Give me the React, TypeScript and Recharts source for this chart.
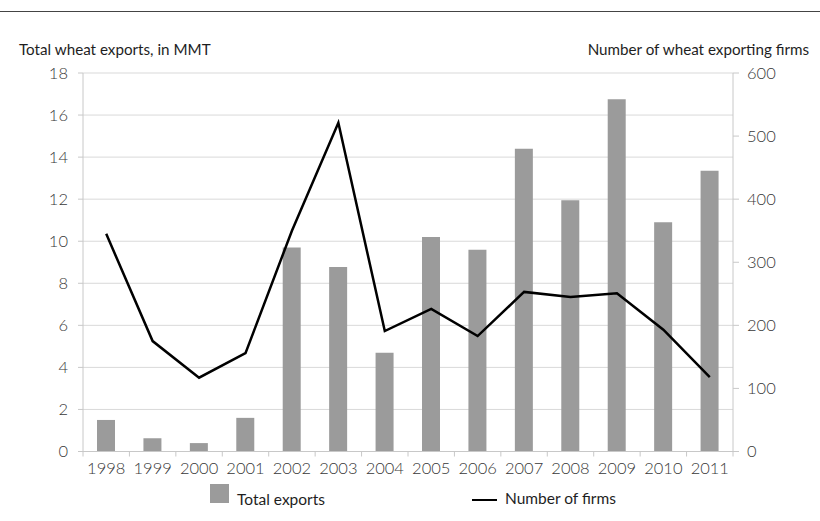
import { ComposedChart, Bar, Line, XAxis, YAxis, CartesianGrid } from 'recharts';

const years = ['1998', '1999', '2000', '2001', '2002', '2003', '2004', '2005', '2006', '2007', '2008', '2009', '2010', '2011'];
const totalExports = [1.5, 0.63, 0.4, 1.6, 9.7, 8.77, 4.7, 10.2, 9.6, 14.4, 11.95, 16.75, 10.9, 13.35];
const numberOfFirms = [345, 175, 117, 156, 350, 521, 191, 226, 183, 253, 245, 251, 193, 118];
const leftTicks = [0, 2, 4, 6, 8, 10, 12, 14, 16, 18];
const rightTicks = [0, 100, 200, 300, 400, 500, 600];

const data = years.map((year, i) => ({
  year,
  exports: totalExports[i],
  firms: numberOfFirms[i],
}));

const W = 820;
const H = 521;
const LEFT = 83;
const RIGHT = 733;
const TOP = 73;
const BOTTOM = 451.5;
const BAND = (RIGHT - LEFT) / years.length;
const FONT = 'Lato, "Noto Sans", sans-serif';
const AXIS = '#c8c8c8';
const GRID = '#d9d9d9';
const TICK_TEXT = '#383838';
const TICK_FONT = { fill: TICK_TEXT, fontSize: 16.5, fontFamily: FONT, fontWeight: 300 };

const YearTick = (props: any) => {
  const { x, payload, index } = props;
  const left = x - BAND / 2;
  return (
    <g>
      <line x1={left} x2={left} y1={BOTTOM} y2={BOTTOM + 5} stroke={AXIS} />
      {index === years.length - 1 && (
        <line x1={left + BAND} x2={left + BAND} y1={BOTTOM} y2={BOTTOM + 5} stroke={AXIS} />
      )}
      <text x={x} y={BOTTOM + 11} dy="0.71em" textAnchor="middle" {...TICK_FONT}>
        {payload.value}
      </text>
    </g>
  );
};

export default function App() {
  return (
    <div style={{ position: 'relative', width: W, height: H, fontFamily: FONT, background: '#fff' }}>
      <style>{`body{margin:0}`}</style>
      <div style={{ position: 'absolute', left: 0, top: 11, width: W, borderTop: '1.5px solid #444' }} />
      <div style={{ position: 'absolute', left: 19, top: 40, fontSize: 15.2, color: '#1e1e1e', whiteSpace: 'nowrap' }}>
        Total wheat exports, in MMT
      </div>
      <div style={{ position: 'absolute', right: 11, top: 40, fontSize: 15.2, color: '#1e1e1e', whiteSpace: 'nowrap' }}>
        Number of wheat exporting firms
      </div>
      <ComposedChart
        width={W}
        height={H}
        data={data}
        margin={{ top: TOP, right: 0, bottom: H - BOTTOM - 30, left: 0 }}
        barSize={18}
      >
        <CartesianGrid yAxisId="left" vertical={false} stroke={GRID} />
        <XAxis
          dataKey="year"
          height={30}
          interval={0}
          stroke={AXIS}
          tickLine={false}
          tick={<YearTick />}
        />
        <YAxis
          yAxisId="left"
          width={LEFT}
          domain={[0, 18]}
          ticks={leftTicks}
          interval={0}
          stroke={AXIS}
          tickSize={5}
          tickMargin={10}
          tick={TICK_FONT}
        />
        <YAxis
          yAxisId="right"
          orientation="right"
          width={W - RIGHT}
          domain={[0, 600]}
          ticks={rightTicks}
          interval={0}
          stroke={AXIS}
          tickSize={6}
          tickMargin={8}
          tick={TICK_FONT}
        />
        <Bar yAxisId="left" dataKey="exports" fill="#9b9b9b" isAnimationActive={false} />
        <Line
          yAxisId="right"
          dataKey="firms"
          type="linear"
          stroke="#000"
          strokeWidth={2.5}
          dot={false}
          isAnimationActive={false}
        />
      </ComposedChart>
      <div style={{ position: 'absolute', left: 210, top: 484, width: 19, height: 19, background: '#9b9b9b' }} />
      <div style={{ position: 'absolute', left: 237, top: 490, fontSize: 15.5, color: '#1e1e1e', whiteSpace: 'nowrap' }}>
        Total exports
      </div>
      <div style={{ position: 'absolute', left: 472, top: 499, width: 25, borderTop: '2.5px solid #000' }} />
      <div style={{ position: 'absolute', left: 505, top: 489, fontSize: 15.5, color: '#1e1e1e', whiteSpace: 'nowrap' }}>
        Number of firms
      </div>
    </div>
  );
}
